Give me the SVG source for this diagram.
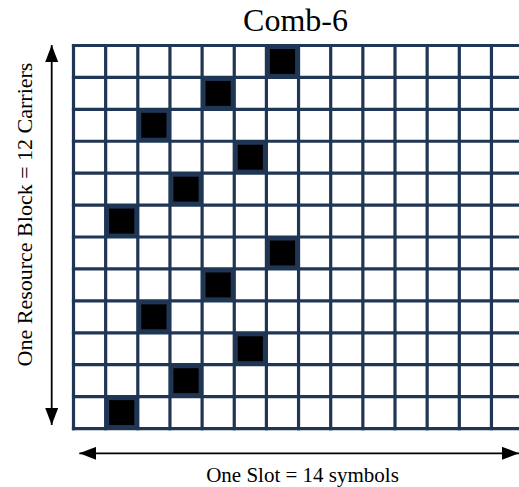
<svg xmlns="http://www.w3.org/2000/svg" width="519" height="487" viewBox="0 0 519 487">
<defs>
<style>
.grid{fill:none;stroke:#1F3654;stroke-width:3.2;stroke-linecap:square}
.rs{fill:#000;stroke:#1F3654;stroke-width:3}
.arr{stroke:#000;stroke-width:1.8;fill:none}
</style>
<marker id="ah" viewBox="0 0 17 13" refX="17" refY="6.5" markerWidth="17" markerHeight="13" markerUnits="userSpaceOnUse" orient="auto-start-reverse">
<path d="M0,0 L17,6.5 L0,13 Z" fill="#000"/>
</marker>
</defs>
<rect width="519" height="487" fill="#fff"/>
<text id="title" font-family="'Liberation Serif', 'Times New Roman', 'DejaVu Serif', serif" fill="#000" x="295.5" y="31" font-size="32" text-anchor="middle">Comb-6</text>
<g id="grid">
<path class="grid" d="M73.5,45.5V428.54M105.65,45.5V428.54M137.8,45.5V428.54M169.95,45.5V428.54M202.1,45.5V428.54M234.25,45.5V428.54M266.4,45.5V428.54M298.55,45.5V428.54M330.7,45.5V428.54M362.85,45.5V428.54M395,45.5V428.54M427.15,45.5V428.54M459.3,45.5V428.54M491.45,45.5V428.54M523.6,45.5V428.54"/>
<path class="grid" d="M73.5,45.5H523.6M73.5,77.42H523.6M73.5,109.34H523.6M73.5,141.26H523.6M73.5,173.18H523.6M73.5,205.1H523.6M73.5,237.02H523.6M73.5,268.94H523.6M73.5,300.86H523.6M73.5,332.78H523.6M73.5,364.7H523.6M73.5,396.62H523.6M73.5,428.54H523.6"/>
</g>
<g id="rs-r0"><rect class="rs" x="268.4" y="47.5" width="28.15" height="27.92"/></g>
<g id="rs-r1"><rect class="rs" x="204.1" y="79.42" width="28.15" height="27.92"/></g>
<g id="rs-r2"><rect class="rs" x="139.8" y="111.34" width="28.15" height="27.92"/></g>
<g id="rs-r3"><rect class="rs" x="236.25" y="143.26" width="28.15" height="27.92"/></g>
<g id="rs-r4"><rect class="rs" x="171.95" y="175.18" width="28.15" height="27.92"/></g>
<g id="rs-r5"><rect class="rs" x="107.65" y="207.1" width="28.15" height="27.92"/></g>
<g id="rs-r6"><rect class="rs" x="268.4" y="239.02" width="28.15" height="27.92"/></g>
<g id="rs-r7"><rect class="rs" x="204.1" y="270.94" width="28.15" height="27.92"/></g>
<g id="rs-r8"><rect class="rs" x="139.8" y="302.86" width="28.15" height="27.92"/></g>
<g id="rs-r9"><rect class="rs" x="236.25" y="334.78" width="28.15" height="27.92"/></g>
<g id="rs-r10"><rect class="rs" x="171.95" y="366.7" width="28.15" height="27.92"/></g>
<g id="rs-r11"><rect class="rs" x="107.65" y="398.62" width="28.15" height="27.92"/></g>
<g id="connectors">
<line class="arr" x1="51.7" y1="45" x2="51.7" y2="425" marker-start="url(#ah)" marker-end="url(#ah)"/>
<line class="arr" x1="79.3" y1="453.3" x2="519" y2="453.3" marker-start="url(#ah)" marker-end="url(#ah)"/>
</g>
<text id="ylabel" font-family="'Liberation Serif', 'Times New Roman', 'DejaVu Serif', serif" fill="#000" font-size="22" text-anchor="middle" transform="translate(31.5,214.5) rotate(-90)">One Resource Block = 12 Carriers</text>
<text id="xlabel" font-family="'Liberation Serif', 'Times New Roman', 'DejaVu Serif', serif" fill="#000" x="302.5" y="482" font-size="21" text-anchor="middle">One Slot = 14 symbols</text>
</svg>
